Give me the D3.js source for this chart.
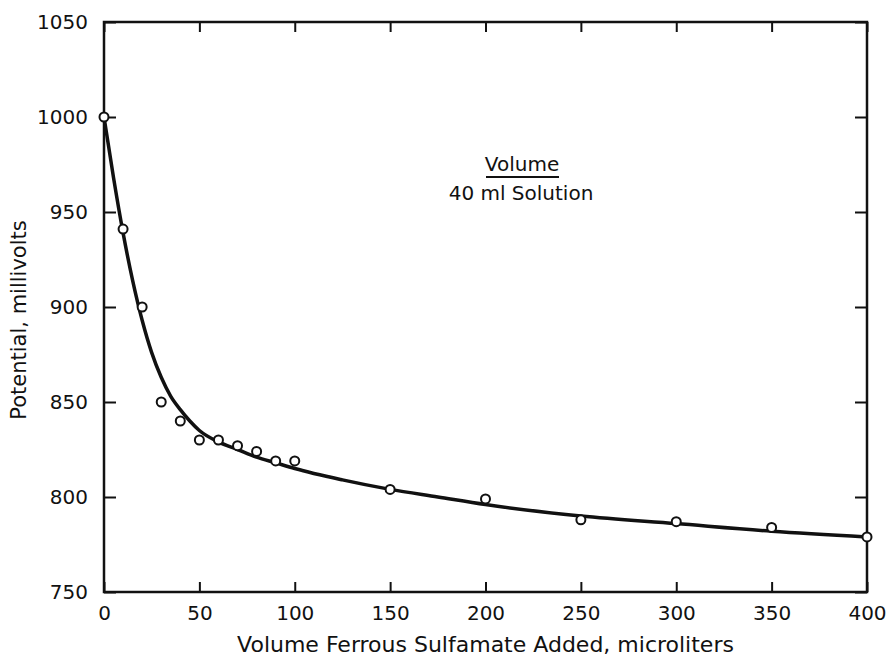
<!DOCTYPE html>
<html>
<head>
<meta charset="utf-8">
<script src="https://cdn.jsdelivr.net/npm/d3@7"></script>
<style>
  body { margin: 0; background: #fff; }
  svg text { font-family: "DejaVu Sans", "Noto Sans", sans-serif; fill: #111; }
</style>
</head>
<body>
<div id="chart"></div>
<script>
// measured points (volume in microliters, potential in mV)
var volumes = [0, 10, 20, 30, 40, 50, 60, 70, 80, 90, 100, 150, 200, 250, 300, 350, 400];
var potentials = [1000, 941, 900, 850, 840, 830, 830, 827, 824, 819, 819, 804, 799, 788, 787, 784, 779];

// fitted curve
var curveX = [0, 5, 10, 15, 20, 25, 30, 35, 40, 45, 50, 60, 70, 80, 90, 100, 125, 150, 175, 200, 250, 300, 350, 400];
var curveY = [1000, 968, 939, 914, 893, 876, 863, 853, 846, 840, 835, 829, 825, 821, 818, 815, 809, 804, 800, 796, 790, 786, 782, 779];

var xTicks = [0, 50, 100, 150, 200, 250, 300, 350, 400];
var yTicks = [750, 800, 850, 900, 950, 1000, 1050];

var width = 891, height = 660;

var svg = d3.select("#chart").append("svg")
    .attr("width", width)
    .attr("height", height);

var x = d3.scaleLinear().domain([0, 400]).range([104, 867]);
var y = d3.scaleLinear().domain([750, 1050]).range([592, 22]);

// frame
svg.append("rect")
    .attr("x", x(0))
    .attr("y", y(1050))
    .attr("width", x(400) - x(0))
    .attr("height", y(750) - y(1050))
    .attr("fill", "none")
    .attr("stroke", "#111")
    .attr("stroke-width", 2.5);

function styleAxis(g) {
  g.select(".domain").remove();
  g.selectAll(".tick line").attr("stroke", "#111").attr("stroke-width", 2);
  g.selectAll(".tick text").style("font-size", "20px").attr("fill", "#111");
}

// bottom, ticks pointing in
svg.append("g")
    .attr("transform", "translate(0," + y(750) + ")")
    .call(d3.axisBottom(x).tickValues(xTicks).tickFormat(d3.format("d"))
      .tickSizeInner(-10).tickSizeOuter(0).tickPadding(14))
    .call(styleAxis);

svg.append("g")
    .attr("transform", "translate(0," + y(1050) + ")")
    .call(d3.axisTop(x).tickValues(xTicks).tickSizeInner(-10).tickSizeOuter(0).tickFormat(""))
    .call(styleAxis);

svg.append("g")
    .attr("transform", "translate(" + x(0) + ",0)")
    .call(d3.axisLeft(y).tickValues(yTicks).tickFormat(d3.format("d"))
      .tickSizeInner(-12).tickSizeOuter(0).tickPadding(16))
    .call(styleAxis);

svg.append("g")
    .attr("transform", "translate(" + x(400) + ",0)")
    .call(d3.axisRight(y).tickValues(yTicks).tickSizeInner(-12).tickSizeOuter(0).tickFormat(""))
    .call(styleAxis);

// axis titles
svg.append("text")
    .attr("x", (x(0) + x(400)) / 2)
    .attr("y", 652)
    .attr("text-anchor", "middle")
    .style("font-size", "22px")
    .text("Volume Ferrous Sulfamate Added, microliters");

svg.append("text")
    .attr("transform", "translate(26," + 320 + ") rotate(-90)")
    .attr("text-anchor", "middle")
    .style("font-size", "21px")
    .text("Potential, millivolts");

// fitted curve
var curveData = curveX.map(function(d, i) { return [d, curveY[i]]; });
var line = d3.line()
    .x(function(d) { return x(d[0]); })
    .y(function(d) { return y(d[1]); })
    .curve(d3.curveMonotoneX);

svg.append("path")
    .datum(curveData)
    .attr("d", line)
    .attr("fill", "none")
    .attr("stroke", "#111")
    .attr("stroke-width", 3.5);

// open circle markers
var pts = volumes.map(function(d, i) { return { v: d, p: potentials[i] }; });
svg.selectAll(".pt")
    .data(pts)
  .enter().append("circle")
    .attr("class", "pt")
    .attr("cx", function(d) { return x(d.v); })
    .attr("cy", function(d) { return y(d.p); })
    .attr("r", 4.5)
    .attr("fill", "#fff")
    .attr("stroke", "#111")
    .attr("stroke-width", 2);

// annotation
var note = svg.append("g");
note.append("text")
    .attr("x", 522)
    .attr("y", 171)
    .attr("text-anchor", "middle")
    .style("font-size", "20px")
    .text("Volume");
note.append("line")
    .attr("x1", 486).attr("x2", 559)
    .attr("y1", 177).attr("y2", 177)
    .attr("stroke", "#111")
    .attr("stroke-width", 2);
note.append("text")
    .attr("x", 521)
    .attr("y", 200)
    .attr("text-anchor", "middle")
    .style("font-size", "20px")
    .text("40 ml Solution");
</script>
</body>
</html>
